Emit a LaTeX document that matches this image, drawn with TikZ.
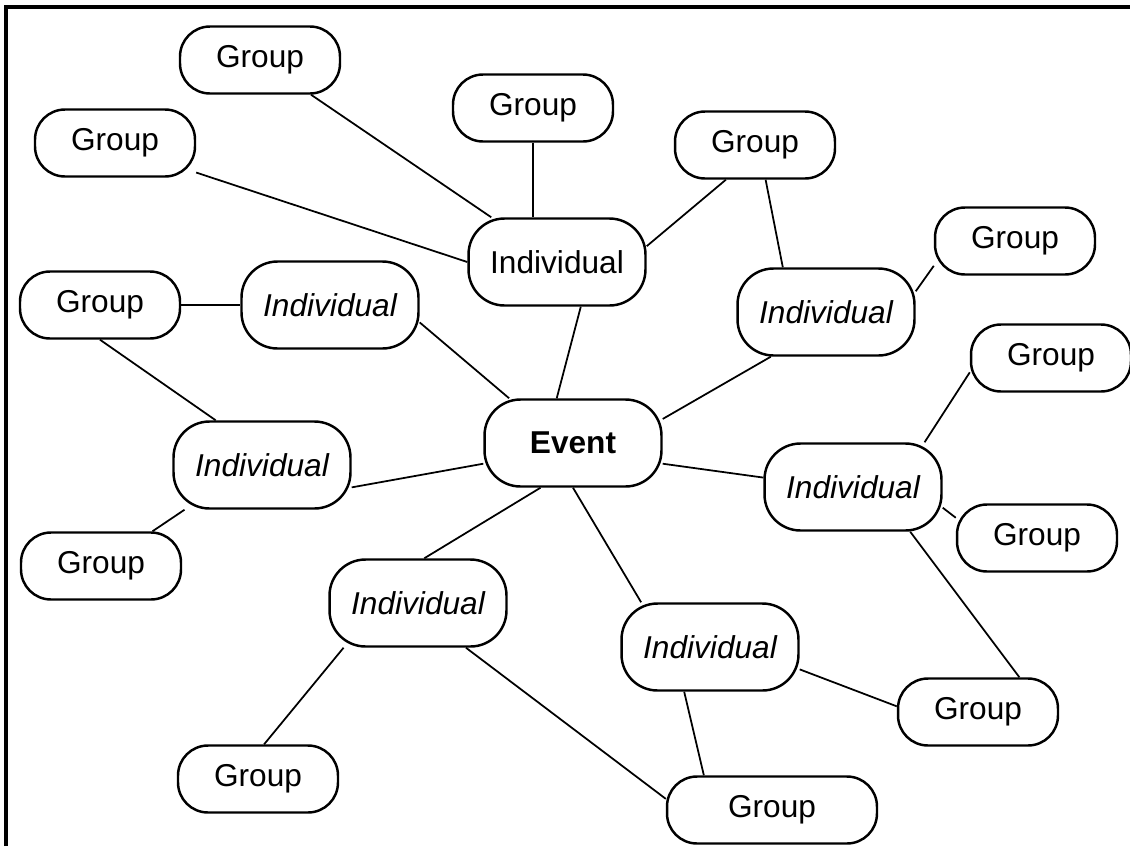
\documentclass[tikz,border=0pt]{standalone}
\usepackage{fontspec}
\setmainfont{Liberation Sans}
\begin{document}
\begin{tikzpicture}[x=0.02cm,y=-0.02cm,font=\fontsize{18}{21}\selectfont,
  box/.style={draw,line width=1.4pt,inner sep=0pt,fill=white},
  grp/.style={box,rounded corners=0.6cm,minimum width=3.2cm,minimum height=1.34cm},
  indiv/.style={box,rounded corners=0.72cm,minimum width=3.54cm,minimum height=1.74cm},
  link/.style={line width=1pt}]
\useasboundingbox (0,0) rectangle (1130,846);
\draw[line width=2.2pt] (6,846) -- (6,7) -- (1130,7);
% the event and its individuals
\node[indiv] (event) at (573,443) {\textbf{Event}};
\node[indiv] (ind1) at (557,262) {Individual};
\node[indiv] (ind2) at (330,305) {\itshape Individual};
\node[indiv] (ind3) at (826,312) {\itshape Individual};
\node[indiv] (ind4) at (262,465) {\itshape Individual};
\node[indiv] (ind5) at (853,487) {\itshape Individual};
\node[indiv] (ind6) at (418,603) {\itshape Individual};
\node[indiv] (ind7) at (710,647) {\itshape Individual};
% groups
\node[grp] (grp1) at (260,60) {Group};
\node[grp] (grp2) at (115,143) {Group};
\node[grp] (grp3) at (533,108) {Group};
\node[grp] (grp4) at (755,145) {Group};
\node[grp] (grp5) at (1015,241) {Group};
\node[grp] (grp6) at (100,305) {Group};
\node[grp] (grp7) at (1051,358) {Group};
\node[grp] (grp8) at (1037,538) {Group};
\node[grp] (grp9) at (101,566) {Group};
\node[grp] (grp10) at (978,712) {Group};
\node[grp] (grp11) at (258,779) {Group};
\node[grp,minimum width=4.2cm] (grp12) at (772,810) {Group};
% links
\draw[link] (grp1) -- (ind1);
\draw[link] (grp2.-20) -- (ind1.west);
\draw[link] (grp3) -- (grp3 |- ind1.north);
\draw[link] (grp4.-130) -- (ind1.10);
\draw[link] (grp4.-73) -- (ind3.134);
\draw[link] (grp5.197) -- (ind3.13);
\draw[link] (grp6) -- (ind2);
\draw[link] (grp6.south) -- (ind4.136);
\draw[link] (ind2.-11) -- (event.145);
\draw[link] (ind1.-62) -- (event.110);
\draw[link] (ind3.219) -- (event.15);
\draw[link] (ind4.-14) -- (event.193);
\draw[link] (grp9.34) -- (ind4.210);
\draw[link] (event.-13) -- (ind5.174);
\draw[link] (grp7.190) -- (ind5.32);
\draw[link] (ind5.-13) -- (grp8.166);
\draw[link] (ind5.-38) -- (grp10.40);
\draw[link] (event.234) -- (ind6.82);
\draw[link] (event.south) -- (ind7.147);
\draw[link] (ind6.211) -- (grp11.80);
\draw[link] (ind6.-43) -- (grp12.174);
\draw[link] (ind7.-14) -- (grp10.176);
\draw[link] (ind7.-120) -- (grp12.153);
\end{tikzpicture}
\end{document}
